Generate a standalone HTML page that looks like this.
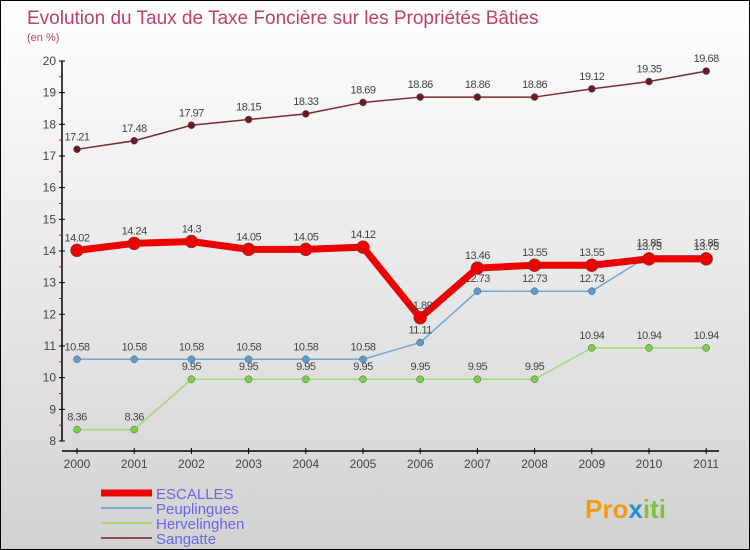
<!DOCTYPE html>
<html><head><meta charset="utf-8"><style>
body{margin:0}
#c{width:750px;height:550px;position:relative;box-sizing:border-box;border:1px solid #000;background:linear-gradient(#fff,#d2d2d2);font-family:"Liberation Sans",sans-serif;overflow:hidden}
svg{position:absolute;left:0;top:0}
</style></head><body>
<div id="c">
<svg id="s" width="750" height="550">
<text x="26" y="23" font-size="19" fill="#c0406a">Evolution du Taux de Taxe Foncière sur les Propriétés Bâties</text>
<text x="26" y="40" font-size="11" fill="#c0406a">(en %)</text>
<g id="logo">
<text x="584" y="517" font-size="26" font-weight="bold" fill="#f39c12">Pro<tspan fill="#2a8fd0">x</tspan><tspan fill="#7cc142">iti</tspan></text>
</g>
</svg>
</div>
<script>
const years=["2000","2001","2002","2003","2004","2005","2006","2007","2008","2009","2010","2011"];
const escalles=[14.02,14.24,14.3,14.05,14.05,14.12,11.89,13.46,13.55,13.55,13.75,13.75];
const peuplingues=[10.58,10.58,10.58,10.58,10.58,10.58,11.11,12.73,12.73,12.73,13.85,13.85];
const hervelinghen=[8.36,8.36,9.95,9.95,9.95,9.95,9.95,9.95,9.95,10.94,10.94,10.94];
const sangatte=[17.21,17.48,17.97,18.15,18.33,18.69,18.86,18.86,18.86,19.12,19.35,19.68];
const yTicks=[8,9,10,11,12,13,14,15,16,17,18,19,20];
const NS="http://www.w3.org/2000/svg";
const s=document.getElementById('s');
const X=i=>76+i*57.2;
const Y=v=>440-(v-8)*31.67;
function el(t,a,p){const e=document.createElementNS(NS,t);for(const k in a)e.setAttribute(k,a[k]);(p||s).appendChild(e);return e;}
let ax=el('line',{x1:61,y1:Y(20),x2:61,y2:Y(8),stroke:'#000','stroke-width':1.5});


let xx=el('line',{x1:61,y1:450,x2:718,y2:450,stroke:'#000','stroke-width':1.5});


yTicks.forEach(v=>{
  el('line',{x1:58,x2:64,y1:Y(v),y2:Y(v),stroke:'#000'});
  if(v<20){el('line',{x1:58,x2:61,y1:Y(v+0.5),y2:Y(v+0.5),stroke:'#e00'});}
  const t=el('text',{x:55,y:Y(v)+4,'font-size':12,fill:'#444','text-anchor':'end'});
  t.textContent=v;
  
  
});
years.forEach((y,i)=>{
  el('line',{x1:X(i),x2:X(i),y1:447,y2:453,stroke:'#000'});
  const t=el('text',{x:X(i),y:467,'font-size':12,fill:'#444','text-anchor':'middle'});
  t.textContent=y;
  
  
});
function series(d,name,col,dot,w,r){
  const g=el('g',{});
  
  
  const p=el('polyline',{points:d.map((v,i)=>X(i)+','+Y(v)).join(' '),fill:'none',stroke:col,'stroke-width':w,'stroke-linejoin':'round'},g);
  
  
  d.forEach((v,i)=>{
    const c=el('circle',{cx:X(i),cy:Y(v),r:r,fill:dot,stroke:'#555','stroke-width':0.5},g);
    
    
    const t=el('text',{x:X(i),y:Y(v)-9,'font-size':11,fill:'#444','text-anchor':'middle','letter-spacing':'-0.5'},g);
    t.textContent=v;
    
    
  });
}
series(hervelinghen,'hervelinghen','#9edb74','#7ed040',1.5,3.5);
series(peuplingues,'peuplingues','#6fa8d6','#5a9bd5',1.5,3.5);
series(sangatte,'sangatte','#7a2a35','#6a1a25',1.5,3.5);
series(escalles,'escalles','#ee0000','#ee0000',7,6.5);
const leg=[["ESCALLES","#ee0000",7],["Peuplingues","#6fa8d6",2],["Hervelinghen","#9edb74",2],["Sangatte","#8a4a50",2]];
leg.forEach((l,i)=>{
  const y=492+i*15;
  const g=el('g',{});
  
  
  el('line',{x1:100,x2:151,y1:y,y2:y,stroke:l[1],'stroke-width':l[2]},g);
  const t=el('text',{x:155,y:y+6,'font-size':15,fill:'#6666ee'},g);
  t.textContent=l[0];
});
</script>
</body></html>
